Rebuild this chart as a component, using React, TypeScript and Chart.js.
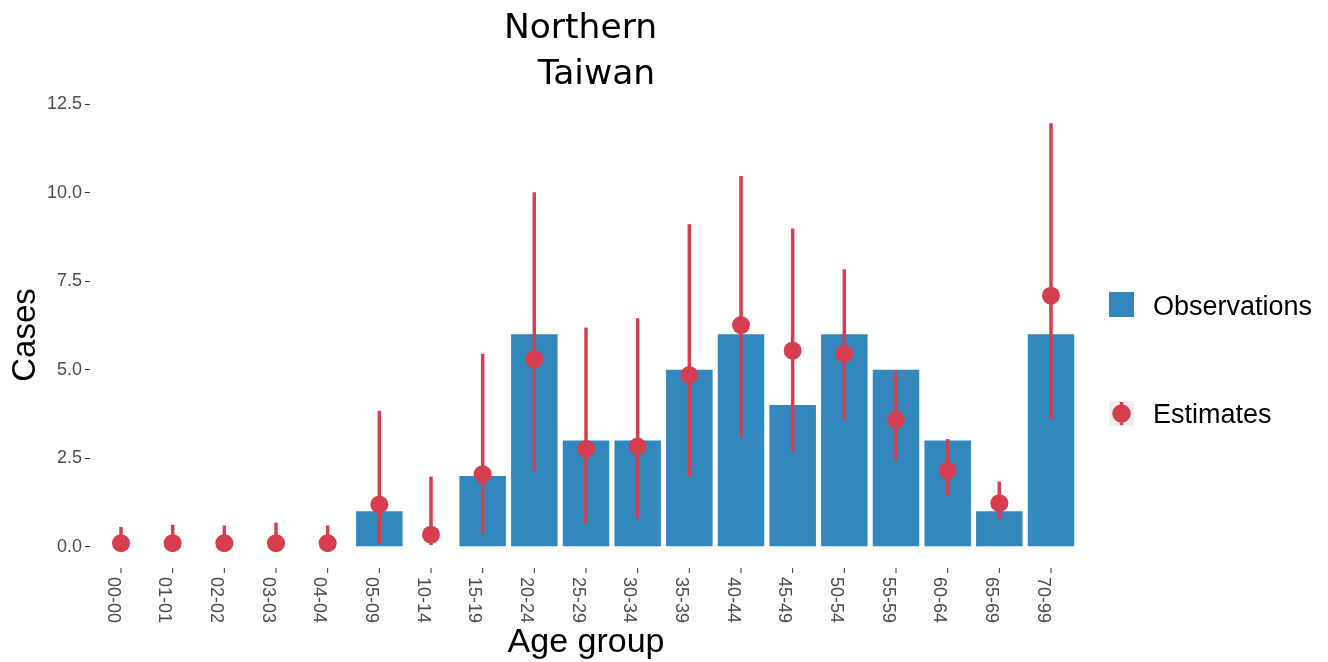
import React, { useEffect, useRef } from 'react';
import { Chart, registerables } from 'chart.js';

Chart.register(...registerables);

const categories = ['00-00', '01-01', '02-02', '03-03', '04-04', '05-09', '10-14', '15-19', '20-24', '25-29', '30-34', '35-39', '40-44', '45-49', '50-54', '55-59', '60-64', '65-69', '70-99'];
const observations = [0, 0, 0, 0, 0, 1, 0, 2, 6, 3, 3, 5, 6, 4, 6, 5, 3, 1, 6];
const estimates = [0.1, 0.1, 0.1, 0.1, 0.1, 1.19, 0.34, 2.05, 5.3, 2.76, 2.83, 4.85, 6.26, 5.54, 5.45, 3.58, 2.15, 1.23, 7.09];
const estLower = [0, 0, 0, 0, 0, 0.08, 0.05, 0.34, 2.12, 0.64, 0.79, 1.98, 3.08, 2.67, 3.56, 2.44, 1.44, 0.78, 3.6];
const estUpper = [0.56, 0.62, 0.6, 0.68, 0.6, 3.84, 1.98, 5.45, 10.01, 6.19, 6.45, 9.11, 10.47, 8.99, 7.84, 4.95, 3.04, 1.84, 11.96];
const yTicks = [0, 2.5, 5, 7.5, 10, 12.5];
const titleLines = ['Northern', ' Taiwan'];

const BLUE = '#3288BD';
const RED = '#D53E4F';
const FONT = '"Liberation Sans", Arial, Helvetica, sans-serif';
const TITLE_FONT = '"DejaVu Sans", "Liberation Sans", sans-serif';

const decor = {
  id: 'decor',
  beforeDatasetDraw(chart: any, args: any) {
    if (args.index !== 1) return;
    const { ctx, scales } = chart;
    const x = scales.x, y = scales.y;
    ctx.save();
    ctx.strokeStyle = RED;
    ctx.lineWidth = 3.5;
    for (let i = 0; i < estimates.length; i++) {
      const px = x.getPixelForValue(i);
      ctx.beginPath();
      ctx.moveTo(px, y.getPixelForValue(estLower[i]));
      ctx.lineTo(px, y.getPixelForValue(estUpper[i]));
      ctx.stroke();
    }
    ctx.restore();
  },
  afterDraw(chart: any) {
    const { ctx, chartArea, scales } = chart;
    const x = scales.x;
    ctx.save();
    // x ticks and rotated labels
    ctx.strokeStyle = '#333333';
    ctx.lineWidth = 1;
    ctx.fillStyle = '#4D4D4D';
    ctx.font = `18px ${FONT}`;
    ctx.textAlign = 'left';
    ctx.textBaseline = 'alphabetic';
    categories.forEach((c, i) => {
      const px = x.getPixelForValue(i);
      ctx.beginPath();
      ctx.moveTo(px, chartArea.bottom);
      ctx.lineTo(px, chartArea.bottom + 5);
      ctx.stroke();
      ctx.save();
      ctx.translate(px - 13.5, chartArea.bottom + 9);
      ctx.rotate(Math.PI / 2);
      ctx.fillText(c, 0, 0);
      ctx.restore();
    });

    // title
    ctx.fillStyle = '#000000';
    ctx.font = `34.5px ${TITLE_FONT}`;
    ctx.textAlign = 'center';
    ctx.fillText(titleLines[0], 580.5, 37.5);
    ctx.fillText(titleLines[1], 591, 83.5);

    // axis titles
    ctx.font = `34px ${FONT}`;
    ctx.fillText('Age group', (chartArea.left + chartArea.right) / 2, 652);
    ctx.font = `33px ${FONT}`;
    ctx.save();
    ctx.translate(35, (chartArea.top + chartArea.bottom) / 2);
    ctx.rotate(-Math.PI / 2);
    ctx.fillText('Cases', 0, 0);
    ctx.restore();

    // legend
    ctx.fillStyle = BLUE;
    ctx.fillRect(1109, 292, 25, 25);
    ctx.fillStyle = '#EFEFEF';
    ctx.fillRect(1109, 401, 25, 25);
    ctx.strokeStyle = RED;
    ctx.lineWidth = 3.5;
    ctx.beginPath();
    ctx.moveTo(1121.5, 402);
    ctx.lineTo(1121.5, 425);
    ctx.stroke();
    ctx.fillStyle = RED;
    ctx.beginPath();
    ctx.arc(1121.5, 413.5, 9.3, 0, Math.PI * 2);
    ctx.fill();
    ctx.fillStyle = '#000000';
    ctx.font = `27px ${FONT}`;
    ctx.textAlign = 'left';
    ctx.fillText('Observations', 1153, 315);
    ctx.fillText('Estimates', 1153, 423);
    ctx.restore();
  },
};

export default function App() {
  const ref = useRef<HTMLCanvasElement>(null);
  useEffect(() => {
    if (!ref.current) return;
    const chart = new Chart(ref.current, {
      type: 'bar',
      data: {
        datasets: [
          {
            type: 'bar',
            label: 'Observations',
            data: observations.map((v, i) => ({ x: i, y: v })),
            backgroundColor: BLUE,
            borderWidth: 0,
            barPercentage: 0.9,
            categoryPercentage: 1,
            order: 2,
          } as any,
          {
            type: 'scatter',
            label: 'Estimates',
            data: estimates.map((v, i) => ({ x: i, y: v })),
            backgroundColor: RED,
            borderWidth: 0,
            pointRadius: 9,
            pointHoverRadius: 9,
            order: 1,
          } as any,
        ],
      },
      options: {
        responsive: false,
        animation: false,
        layout: { padding: { left: 0, right: 246, top: 102, bottom: 94 } },
        plugins: {
          legend: { display: false },
          tooltip: { enabled: false },
          title: { display: false },
        },
        scales: {
          x: { type: 'linear', min: -0.6, max: 18.6, offset: false, display: false },
          y: {
            type: 'linear',
            min: -0.6,
            max: 12.56,
            afterBuildTicks: (s: any) => {
              s.ticks = yTicks.map((v) => ({ value: v }));
            },
            afterFit: (s: any) => {
              s.width = 90;
            },
            ticks: {
              callback: (v: any) => Number(v).toFixed(1),
              font: { size: 18, family: FONT },
              color: '#4D4D4D',
              padding: 3,
            },
            grid: { drawOnChartArea: false, drawTicks: true, tickLength: 5, color: '#333333', lineWidth: 1 },
            border: { display: false },
          },
        },
      } as any,
      plugins: [decor],
    });
    return () => chart.destroy();
  }, []);
  return (
    <div style={{ position: 'absolute', left: 0, top: 0, width: 1328, height: 662, background: '#ffffff' }}>
      <canvas ref={ref} width={1328} height={662} style={{ display: 'block' }} />
    </div>
  );
}
